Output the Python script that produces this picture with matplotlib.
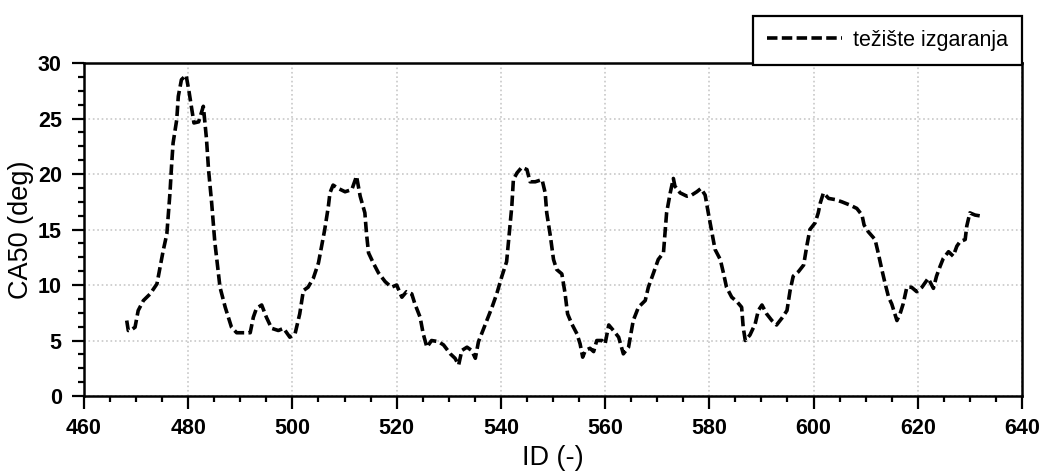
# CA50 (težište izgaranja) vs ID
import matplotlib
matplotlib.use('Agg')
import matplotlib.pyplot as plt
from matplotlib.ticker import MultipleLocator

plt.rcParams['font.family'] = ['Liberation Sans', 'DejaVu Sans']

# Data
cycle_id = [468.2, 468.5, 469.2, 469.8, 470.4, 471.4, 472.7, 474.0, 474.6, 475.2,
            475.9, 476.5, 476.8, 477.1, 477.8, 478.1, 478.7, 479.6, 480.2, 480.7,
            481.1, 482.0, 482.9, 483.5, 483.9, 484.5, 485.1, 486.1, 487.1, 488.3,
            489.3, 491.9, 492.5, 493.1, 494.1, 495.0, 496.0, 497.3, 498.3, 499.5,
            500.5, 501.4, 502.1, 503.0, 504.0, 505.0, 505.6, 506.2, 506.9, 507.2,
            507.8, 508.8, 510.1, 511.4, 512.3, 513.0, 513.9, 514.2, 514.6, 515.5,
            516.5, 517.8, 519.0, 520.0, 521.0, 521.9, 522.9, 523.5, 524.5, 525.1,
            525.8, 526.7, 528.0, 529.0, 530.3, 531.2, 531.9, 532.5, 533.5, 534.4,
            535.1, 535.7, 536.3, 537.3, 538.3, 539.2, 540.2, 541.1, 541.5, 542.1,
            542.4, 543.1, 544.0, 545.0, 545.6, 546.6, 547.9, 548.5, 548.8, 549.5,
            550.1, 550.7, 551.7, 552.3, 552.8, 553.6, 554.6, 555.2, 555.7, 556.2,
            557.1, 557.8, 558.4, 559.4, 560.0, 560.7, 561.6, 562.6, 563.5, 564.5,
            565.4, 566.4, 567.7, 568.3, 569.3, 570.2, 571.2, 571.5, 571.8, 572.5,
            573.1, 573.4, 574.4, 575.7, 576.6, 577.6, 578.4, 579.2, 579.8, 580.5,
            581.1, 582.1, 582.7, 583.3, 584.3, 585.3, 586.2, 586.5, 586.9, 587.8,
            588.8, 589.4, 590.1, 591.0, 592.0, 592.9, 593.9, 594.9, 595.5, 596.1,
            597.1, 598.1, 598.7, 599.3, 600.3, 600.9, 601.3, 601.9, 602.9, 604.1,
            605.4, 607.0, 608.3, 609.3, 609.7, 610.5, 611.8, 612.4, 613.1, 613.7,
            614.4, 615.0, 616.0, 616.6, 617.2, 617.9, 618.8, 619.8, 620.8, 622.0,
            623.0, 623.6, 624.3, 624.9, 625.9, 626.8, 627.5, 628.1, 629.1, 629.4,
            630.0, 631.0, 632.3]
ca50 = [6.8, 5.9, 6.0, 6.2, 7.7, 8.6, 9.2, 10.1, 11.6, 13.1,
        14.6, 18.3, 20.7, 22.8, 24.9, 27.0, 28.5, 28.9, 27.3, 25.8,
        24.6, 24.7, 26.1, 23.2, 20.4, 17.4, 13.9, 9.8, 8.0, 6.2,
        5.7, 5.7, 7.1, 7.9, 8.2, 7.1, 6.1, 5.9, 6.1, 5.3,
        5.6, 7.4, 9.5, 9.8, 10.6, 12.0, 13.5, 15.0, 17.1, 18.3,
        19.0, 18.7, 18.4, 18.6, 19.8, 18.0, 16.5, 14.7, 12.9, 12.0,
        11.1, 10.3, 9.8, 10.0, 8.9, 9.4, 9.2, 8.3, 7.1, 5.6,
        4.4, 5.0, 4.9, 4.6, 3.8, 3.4, 2.8, 4.1, 4.4, 4.1,
        3.4, 4.9, 5.6, 6.8, 8.0, 9.2, 10.8, 12.1, 14.1, 17.1,
        19.5, 20.1, 20.6, 20.4, 19.3, 19.3, 19.5, 18.3, 16.5, 14.4,
        12.3, 11.4, 11.0, 9.3, 7.4, 6.5, 5.6, 4.7, 3.5, 4.1,
        4.3, 4.0, 5.0, 5.0, 4.7, 6.4, 5.9, 5.3, 3.8, 4.4,
        6.8, 8.0, 8.6, 9.8, 11.1, 12.3, 12.9, 14.7, 16.5, 18.3,
        19.6, 18.9, 18.3, 18.0, 18.1, 18.4, 18.7, 18.1, 16.5, 14.7,
        13.2, 12.3, 11.1, 9.8, 8.9, 8.5, 8.0, 6.2, 5.0, 5.5,
        6.5, 7.7, 8.2, 7.4, 6.8, 6.4, 7.0, 7.7, 9.5, 10.8,
        11.2, 11.8, 13.5, 15.0, 15.6, 16.5, 17.4, 18.3, 17.8, 17.7,
        17.5, 17.2, 16.9, 16.3, 15.4, 14.8, 14.1, 12.9, 11.4, 10.2,
        8.9, 8.3, 6.8, 7.4, 8.3, 9.8, 9.8, 9.4, 9.8, 10.6,
        9.7, 10.8, 11.7, 12.4, 13.0, 12.6, 13.5, 13.9, 14.1, 15.3,
        16.5, 16.3, 16.2]

fig = plt.figure(figsize=(10.42, 4.72), dpi=100)
ax = fig.add_axes([0.0806, 0.161, 0.9002, 0.7055])

ax.plot(cycle_id, ca50, color='black', lw=2.6, linestyle=(0, (2.9, 1.2)),
        label='težište izgaranja')

ax.set_xlim(460, 640)
ax.set_ylim(0, 30)
ax.xaxis.set_major_locator(MultipleLocator(20))
ax.xaxis.set_minor_locator(MultipleLocator(5))
ax.yaxis.set_major_locator(MultipleLocator(5))
ax.yaxis.set_minor_locator(MultipleLocator(1.25))

ax.grid(True, which='major', color='#c8c8c8', linestyle=':', lw=1.2)
ax.tick_params(which='major', direction='out', length=9, width=1.6,
               labelsize=15.5, pad=7)
ax.tick_params(which='minor', direction='out', length=4.5, width=1.6)
for lbl in ax.get_xticklabels() + ax.get_yticklabels():
    lbl.set_fontweight('bold')
for s in ax.spines.values():
    s.set_linewidth(1.8)

ax.set_xlabel('ID (-)', fontsize=19.5, labelpad=4)
ax.set_ylabel('CA50 (deg)', fontsize=19.5, labelpad=3)

handles, labels = ax.get_legend_handles_labels()
leg = fig.legend(handles, labels, loc='lower right',
                 bbox_to_anchor=(0.9808, 0.8623), bbox_transform=fig.transFigure,
                 borderaxespad=0, fancybox=False, framealpha=1,
                 edgecolor='black', fontsize=15.5, handlelength=3.5,
                 handletextpad=0.5, borderpad=0.65)
leg.get_frame().set_linewidth(1.6)

fig.savefig('out.png', dpi=100)
